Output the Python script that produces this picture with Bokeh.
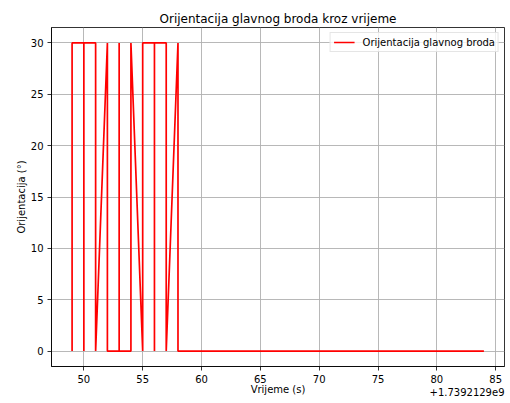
from bokeh.plotting import figure
from bokeh.models import FixedTicker, Legend, LegendItem, Title
from bokeh.embed import file_html
from bokeh.resources import INLINE

# Time offset (seconds since epoch) and relative sample times
time_offset = 1.7392129e9
time_rel = [49, 49, 50, 50, 50, 51, 51, 52, 52, 53, 53, 53, 54, 54,
            55, 55, 56, 56, 56, 57, 57, 58, 58, 84]
orientation = [0, 30, 30, 0, 30, 30, 0, 30, 0, 0, 30, 0, 0, 30,
               0, 30, 30, 0, 30, 30, 0, 30, 0, 0]

x_ticks = [50, 55, 60, 65, 70, 75, 80, 85]
y_ticks = [0, 5, 10, 15, 20, 25, 30]

FONT = "DejaVu Sans"
TXT = "10px"

p = figure(width=510, height=403, output_backend="svg", toolbar_location=None,
           x_range=(47.25, 85.75), y_range=(-1.5, 31.5),
           min_border_left=51, min_border_right=6,
           min_border_top=27, min_border_bottom=37,
           title="Orijentacija glavnog broda kroz vrijeme")

p.title.align = "center"
p.title.text_font = FONT
p.title.text_font_size = "12px"
p.title.text_font_style = "normal"
p.title.text_color = "#000000"
p.title.offset = 0
p.title.standoff = 4

line = p.line(time_rel, orientation, line_color="red", line_width=1.7)

legend = Legend(items=[LegendItem(label="Orijentacija glavnog broda", renderers=[line])],
                location="top_right")
legend.label_text_font = FONT
legend.label_text_font_size = TXT
legend.label_text_color = "#000000"
legend.label_height = 12
legend.glyph_height = 12
legend.glyph_width = 21
legend.label_standoff = 8
legend.padding = 3
legend.margin = 5
legend.border_line_color = "#cccccc"
legend.border_line_width = 1
legend.background_fill_alpha = 0.8
p.add_layout(legend)

for ax in (p.xaxis[0], p.yaxis[0]):
    ax.major_label_text_font = FONT
    ax.major_label_text_font_size = TXT
    ax.major_label_text_color = "#000000"
    ax.axis_label_text_font = FONT
    ax.axis_label_text_font_size = TXT
    ax.axis_label_text_font_style = "normal"
    ax.axis_label_text_color = "#000000"
    ax.axis_line_color = "#000000"
    ax.axis_line_width = 0.8
    ax.major_tick_line_color = "#000000"
    ax.major_tick_line_width = 0.8
    ax.major_tick_out = 4
    ax.major_tick_in = 0
    ax.minor_tick_line_color = None

p.xaxis.ticker = FixedTicker(ticks=x_ticks)
p.yaxis.ticker = FixedTicker(ticks=y_ticks)
p.yaxis.axis_label = "Orijentacija (°)"
p.xaxis.major_label_standoff = 4
p.yaxis.major_label_standoff = 4
p.yaxis.axis_label_standoff = 1

p.xgrid.ticker = FixedTicker(ticks=x_ticks)
p.ygrid.ticker = FixedTicker(ticks=y_ticks)
p.grid.grid_line_color = "#b0b0b0"
p.grid.grid_line_width = 0.9

p.outline_line_color = "#000000"
p.outline_line_width = 0.8
p.background_fill_color = "white"
p.border_fill_color = "white"

# x axis title and the offset of the x values share one row under the tick labels
offset_text = "+" + f"{time_offset:.7e}".replace("e+09", "e9")
p.add_layout(Title(text="Vrijeme (s)", align="center", vertical_align="bottom",
                   standoff=-7, offset=0, text_font=FONT, text_font_size=TXT,
                   text_font_style="normal", text_color="#000000"), "below")
p.add_layout(Title(text=offset_text, align="right", vertical_align="middle",
                   standoff=-14, offset=0, text_font=FONT, text_font_size=TXT,
                   text_font_style="normal", text_color="#000000"), "below")

open("out.html", "w").write(file_html(p, INLINE))
